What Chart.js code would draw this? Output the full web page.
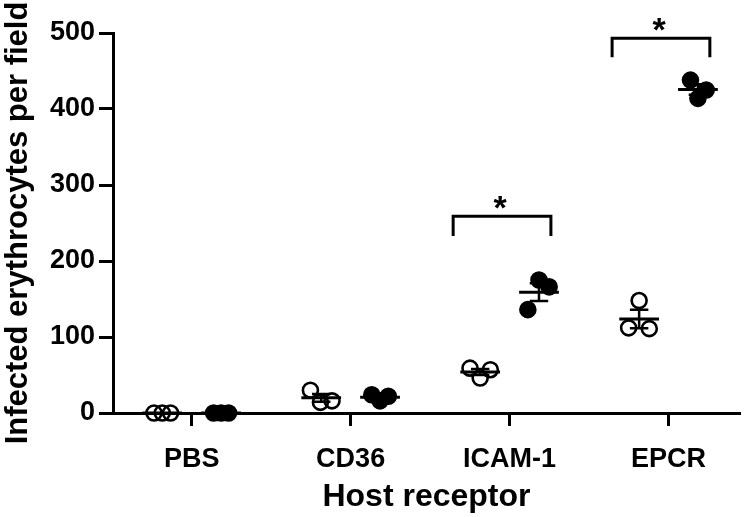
<!DOCTYPE html>
<html>
<head>
<meta charset="utf-8">
<script src="https://cdn.jsdelivr.net/npm/chart.js@4.4.1/dist/chart.umd.min.js"></script>
<style>
  html, body { margin: 0; padding: 0; background: #fff; }
  canvas { display: block; }
</style>
</head>
<body>
<canvas id="bindingChart" width="750" height="517"></canvas>
<script>
// Values (three replicate fields per condition)
const categories = ['PBS', 'CD36', 'ICAM-1', 'EPCR'];
const openValues = [[0, 0, 0], [30, 14, 16], [59, 57, 46], [148, 112, 111]];
const filledValues = [[0, 0, 0], [24, 22, 16], [175, 166, 136], [438, 414, 425]];
const yTicks = [0, 100, 200, 300, 400, 500];
// significance brackets: category index, bottom and top of the bracket (y units)
const brackets = [
  { cat: 2, low: 233, high: 259, label: '*' },
  { cat: 3, low: 468, high: 493, label: '*' }
];

// layout only: where the two groups sit around each category, and point scatter
const GROUP_OFFSET = 0.185;
const openJitter = [[-0.052, 0, 0.052], [-0.068, -0.005, 0.068], [-0.064, 0.064, 0], [0, -0.066, 0.064]];
const filledJitter = [[-0.047, 0, 0.047], [-0.052, 0.052, 0], [0, 0.064, -0.07], [-0.047, 0, 0.052]];

const FONT = "'Liberation Sans', Arial, sans-serif";

function toPoints(values, side, jitter) {
  const pts = [];
  values.forEach((group, i) => {
    group.forEach((v, j) => pts.push({ x: i + side * GROUP_OFFSET + jitter[i][j], y: v }));
  });
  return pts;
}

function mean(a) { return a.reduce((s, v) => s + v, 0) / a.length; }
function sem(a) {
  const m = mean(a);
  const sd = Math.sqrt(a.reduce((s, v) => s + (v - m) * (v - m), 0) / (a.length - 1));
  return sd / Math.sqrt(a.length);
}

// mean line + SEM whiskers, and the significance brackets
const summaryPlugin = {
  id: 'summary',
  afterDatasetsDraw(chart) {
    const { ctx, scales: { x, y } } = chart;
    ctx.save();
    ctx.strokeStyle = '#000';
    ctx.lineCap = 'butt';

    const drawGroup = (vals, cx) => {
      const m = mean(vals), e = sem(vals);
      const py = y.getPixelForValue(m);
      ctx.lineWidth = 3;
      ctx.beginPath();
      ctx.moveTo(x.getPixelForValue(cx - 0.125), py);
      ctx.lineTo(x.getPixelForValue(cx + 0.125), py);
      ctx.stroke();
      if (e > 0) {
        const top = y.getPixelForValue(m + e), bot = y.getPixelForValue(m - e);
        const l = x.getPixelForValue(cx - 0.058), r = x.getPixelForValue(cx + 0.058);
        const c = x.getPixelForValue(cx);
        ctx.lineWidth = 2.5;
        ctx.beginPath();
        ctx.moveTo(c, top); ctx.lineTo(c, bot);
        ctx.moveTo(l, top); ctx.lineTo(r, top);
        ctx.moveTo(l, bot); ctx.lineTo(r, bot);
        ctx.stroke();
      }
    };
    categories.forEach((c, i) => {
      drawGroup(openValues[i], i - GROUP_OFFSET);
      drawGroup(filledValues[i], i + GROUP_OFFSET);
    });

    ctx.lineWidth = 3;
    ctx.lineJoin = 'miter';
    ctx.fillStyle = '#000';
    ctx.font = 'bold 34px ' + FONT;
    ctx.textAlign = 'center';
    ctx.textBaseline = 'alphabetic';
    brackets.forEach(b => {
      const l = x.getPixelForValue(b.cat - 0.355), r = x.getPixelForValue(b.cat + 0.26);
      const top = y.getPixelForValue(b.high), bot = y.getPixelForValue(b.low);
      ctx.beginPath();
      ctx.moveTo(l, bot); ctx.lineTo(l, top); ctx.lineTo(r, top); ctx.lineTo(r, bot);
      ctx.stroke();
      ctx.fillText(b.label, x.getPixelForValue(b.cat - 0.06), top + 3);
    });
    ctx.restore();
  }
};

new Chart(document.getElementById('bindingChart'), {
  type: 'scatter',
  data: {
    datasets: [
      {
        label: 'open',
        data: toPoints(openValues, -1, openJitter),
        pointStyle: 'circle',
        pointRadius: 7.5,
        borderWidth: 2.6,
        borderColor: '#000',
        backgroundColor: 'rgba(0,0,0,0)',
        clip: false
      },
      {
        label: 'filled',
        data: toPoints(filledValues, 1, filledJitter),
        pointStyle: 'circle',
        pointRadius: 7.5,
        borderWidth: 2.6,
        borderColor: '#000',
        backgroundColor: '#000',
        clip: false
      }
    ]
  },
  options: {
    responsive: false,
    animation: false,
    devicePixelRatio: 1,
    layout: { padding: { top: 33, right: 4, bottom: 0, left: 0 } },
    plugins: {
      legend: { display: false },
      tooltip: { enabled: false }
    },
    scales: {
      x: {
        type: 'linear',
        min: -0.495,
        max: 3.449,
        afterBuildTicks: axis => { axis.ticks = categories.map((c, i) => ({ value: i })); },
        afterFit: scale => { scale.height = 104; },
        ticks: {
          callback: v => categories[v],
          color: '#000',
          font: { family: FONT, size: 27, weight: 'bold' },
          padding: 17,
          maxRotation: 0
        },
        grid: { drawOnChartArea: false, color: '#000', lineWidth: 3, tickLength: 13 },
        border: { color: '#000', width: 3 },
        title: {
          display: true,
          text: 'Host receptor',
          color: '#000',
          font: { family: FONT, size: 32, weight: 'bold' },
          padding: { top: 0, bottom: 1 }
        }
      },
      y: {
        min: 0,
        max: 500,
        afterBuildTicks: axis => { axis.ticks = yTicks.map(v => ({ value: v })); },
        afterFit: scale => { scale.width = 113; },
        ticks: {
          color: '#000',
          font: { family: FONT, size: 27, weight: 'bold' },
          padding: 4
        },
        grid: { drawOnChartArea: false, color: '#000', lineWidth: 3, tickLength: 14 },
        border: { color: '#000', width: 3 },
        title: {
          display: true,
          text: 'Infected erythrocytes per field',
          color: '#000',
          font: { family: FONT, size: 31, weight: 'bold' },
          padding: { top: 0, bottom: 0 }
        }
      }
    }
  },
  plugins: [summaryPlugin]
});
</script>
</body>
</html>
